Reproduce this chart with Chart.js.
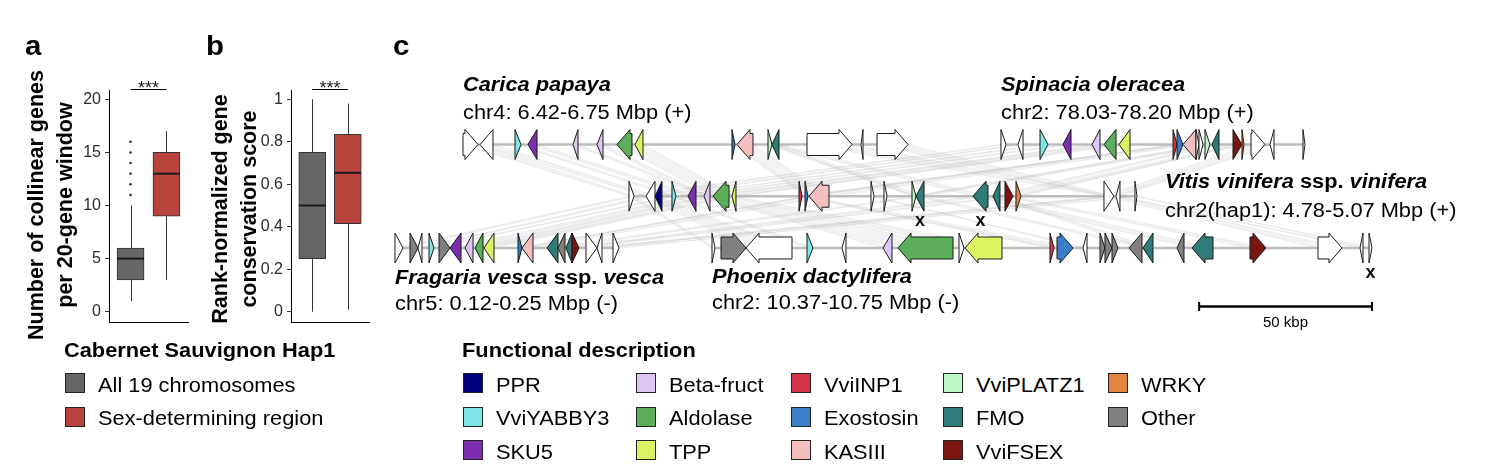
<!DOCTYPE html>
<html><head><meta charset="utf-8">
<script src="https://cdn.jsdelivr.net/npm/chart.js@4.4.1/dist/chart.umd.min.js"></script>
<style>
html,body{margin:0;padding:0;background:#fff;}
#wrap{position:relative;width:1486px;height:468px;overflow:hidden;font-family:'Liberation Sans',Arial,sans-serif;color:#000;}
canvas{position:absolute;}
.t{position:absolute;white-space:nowrap;line-height:1;transform-origin:0 0;}
.sw{position:absolute;width:20px;height:20px;box-sizing:border-box;border:1px solid #222;}
.rot{position:absolute;white-space:nowrap;font-weight:bold;text-align:center;}
</style></head><body><div id="wrap">
<canvas id="ca" width="200" height="340" style="left:0;top:0"></canvas>
<canvas id="cb" width="190" height="340" style="left:190px;top:0"></canvas>
<canvas id="cc" width="1106" height="280" style="left:380px;top:60px"></canvas>
</div>
<script>
// ================= DATA =================
// Panels a / b : box plots
const boxGroups = ['All 19 chromosomes', 'Sex-determining region'];
const boxX = [1, 2];
const aWhiskerLow = [1, 3];
const aQ1 = [3, 9];
const aMedian = [5, 13];
const aQ3 = [6, 15];
const aWhiskerHigh = [10, 17];
const aOutliers = [11, 12, 13, 14, 15, 16];
const aTicks = [0, 5, 10, 15, 20];
const bWhiskerLow = [0, 0.01];
const bQ1 = [0.25, 0.414];
const bMedian = [0.5, 0.654];
const bQ3 = [0.75, 0.835];
const bWhiskerHigh = [1, 0.98];
const bOutliers = [];
const bTicks = [0, 0.2, 0.4, 0.6, 0.8, 1];
const sigLabel = '***';

// Panel c : gene neighbourhoods, positions in kbp on the shared drawing axis
// [start, end, strand, category]
const genesCarica = [
  [24.01, 28.35, 1, 'none'], [28.93, 32.69, -1, 'none'], [39.06, 40.80, 1, 'VviYABBY3'],
  [42.82, 45.43, -1, 'SKU5'], [55.84, 57.29, -1, 'Beta-fruct'], [62.78, 64.52, -1, 'Beta-fruct'],
  [68.57, 72.91, -1, 'Aldolase'], [73.78, 76.09, -1, 'TPP'], [101.84, 102.71, 1, 'Exostosin'],
  [103.29, 107.92, -1, 'KASIII'], [112.26, 113.42, 1, 'VviPLATZ1'], [113.42, 115.44, -1, 'FMO'],
  [123.54, 136.56, 1, 'none'], [139.17, 139.75, -1, 'none'], [143.80, 152.77, 1, 'none']
];
const genesSpinacia = [
  [179.67, 181.12, 1, 'none'], [184.59, 186.04, -1, 'none'], [190.96, 193.27, 1, 'VviYABBY3'],
  [197.61, 199.93, -1, 'SKU5'], [206.00, 208.32, -1, 'Beta-fruct'], [209.47, 212.95, -1, 'Aldolase'],
  [213.82, 217.00, -1, 'TPP'], [229.44, 230.60, 1, 'VviINP1'], [230.60, 232.33, 1, 'Exostosin'],
  [232.33, 236.09, -1, 'KASIII'], [236.09, 236.96, 1, 'none'], [236.96, 238.12, 1, 'none'],
  [238.70, 240.14, 1, 'VviPLATZ1'], [240.72, 242.75, -1, 'FMO'], [246.80, 249.40, 1, 'VviFSEX'],
  [249.40, 249.98, 1, 'WRKY'], [252.01, 256.06, 1, 'none'], [257.50, 258.66, -1, 'none'],
  [267.05, 267.63, 1, 'none']
];
const genesVitis = [
  [72.04, 73.49, 1, 'none'], [76.96, 79.57, -1, 'none'], [79.57, 81.59, -1, 'PPR'],
  [84.48, 85.64, 1, 'VviYABBY3'], [89.11, 91.43, -1, 'SKU5'], [93.74, 95.48, -1, 'Beta-fruct'],
  [96.35, 100.98, -1, 'Aldolase'], [101.84, 103.00, -1, 'TPP'], [121.23, 122.10, 1, 'VviINP1'],
  [122.97, 123.83, 1, 'Exostosin'], [124.12, 129.91, -1, 'KASIII'], [142.06, 142.93, 1, 'none'],
  [145.82, 146.69, 1, 'none'], [153.92, 155.08, 1, 'VviPLATZ1'], [155.08, 157.40, -1, 'FMO'],
  [171.57, 175.91, -1, 'FMO'], [177.36, 179.38, -1, 'FMO'], [180.83, 183.15, 1, 'VviFSEX'],
  [184.01, 185.46, 1, 'WRKY'], [209.47, 212.37, 1, 'none'], [212.95, 214.10, -1, 'none'],
  [218.44, 219.02, 1, 'none']
];
const genesFragaria = [
  [4.34, 6.65, 1, 'none'], [8.68, 10.99, 1, 'Other'], [10.99, 12.15, -1, 'none'],
  [14.18, 15.62, 1, 'VviYABBY3'], [17.07, 20.25, 1, 'Other'], [20.25, 23.44, -1, 'SKU5'],
  [24.59, 26.91, -1, 'Beta-fruct'], [27.49, 29.80, -1, 'Aldolase'], [30.09, 32.98, -1, 'TPP'],
  [39.93, 41.08, 1, 'Exostosin'], [41.08, 44.27, -1, 'KASIII'], [48.32, 51.50, -1, 'FMO'],
  [51.50, 53.53, -1, 'Other'], [53.82, 55.55, -1, 'FMO'], [55.55, 57.58, 1, 'VviFSEX'],
  [59.60, 62.78, 1, 'none'], [62.78, 64.23, -1, 'none'], [67.41, 69.15, 1, 'none']
];
const genesPhoenix = [
  [96.06, 96.93, 1, 'none'], [98.66, 105.90, 1, 'Other'], [105.90, 119.20, -1, 'none'],
  [123.54, 125.28, 1, 'VviYABBY3'], [133.67, 134.83, -1, 'none'], [145.53, 148.14, -1, 'Beta-fruct'],
  [149.87, 165.79, -1, 'Aldolase'], [167.52, 168.97, 1, 'none'], [169.26, 179.96, -1, 'TPP'],
  [193.85, 195.01, 1, 'VviINP1'], [195.88, 200.51, 1, 'Exostosin'], [203.40, 204.56, -1, 'none'],
  [208.32, 209.76, 1, 'Other'], [209.76, 211.79, 1, 'Other'], [211.79, 213.53, 1, 'Other'],
  [216.71, 220.47, -1, 'Other'], [220.76, 223.65, -1, 'FMO'], [230.60, 232.62, -1, 'Other'],
  [234.94, 241.01, -1, 'FMO'], [251.72, 256.35, 1, 'VviFSEX'], [271.39, 278.33, 1, 'none'],
  [283.55, 284.41, -1, 'none'], [286.15, 287.01, 1, 'none']
];
const trackGenes = [genesCarica, genesSpinacia, genesVitis, genesFragaria, genesPhoenix];
const trackRows = [2, 2, 1, 0, 0];
const trackSpans = [[24.0, 152.8], [179.4, 267.6], [71.75, 219.0], [4.3, 69.2], [95.77, 287.0]];
const speciesNames = ['<i>Carica papaya</i>', '<i>Spinacia oleracea</i>', '<i>Vitis vinifera</i> ssp. <i>vinifera</i>',
  '<i>Fragaria vesca</i> ssp. <i>vesca</i>', '<i>Phoenix dactylifera</i>'];
const speciesRegions = ['chr4: 6.42-6.75 Mbp (+)', 'chr2: 78.03-78.20 Mbp (+)', 'chr2(hap1): 4.78-5.07 Mbp (+)',
  'chr5: 0.12-0.25 Mbp (-)', 'chr2: 10.37-10.75 Mbp (-)'];
// genes marked with "x": [track, gene]
const markedGenes = [[2, 14], [2, 15], [4, 22]];
// synteny links: [trackA, geneA, trackB, geneB]
const syntenyLinks = [
  [0,0,2,0],[0,1,2,1],[0,2,2,3],[0,3,2,4],[0,4,2,5],[0,5,2,5],[0,6,2,6],[0,7,2,7],[0,8,2,9],
  [0,9,2,10],[0,10,2,13],[0,11,2,14],[0,11,2,15],[0,12,2,19],[0,14,2,19],
  [1,0,2,0],[1,1,2,1],[1,2,2,3],[1,3,2,4],[1,4,2,5],[1,5,2,6],[1,6,2,7],[1,7,2,8],[1,8,2,9],
  [1,9,2,10],[1,12,2,13],[1,13,2,14],[1,13,2,16],[1,14,2,17],[1,15,2,18],[1,16,2,19],[1,17,2,20],
  [2,0,3,0],[2,1,3,2],[2,3,3,3],[2,4,3,5],[2,5,3,6],[2,6,3,7],[2,7,3,8],[2,9,3,9],[2,10,3,10],
  [2,14,3,11],[2,15,3,13],[2,17,3,14],[2,19,3,15],[2,20,3,16],[2,21,3,17],
  [2,0,4,0],[2,1,4,2],[2,3,4,3],[2,5,4,5],[2,6,4,6],[2,7,4,8],[2,8,4,9],[2,9,4,10],[2,11,4,11],
  [2,14,4,16],[2,15,4,18],[2,16,4,16],[2,17,4,19],[2,19,4,20],[2,20,4,21],[2,21,4,22]
];
const scaleBarKb = [237, 287];
const scaleBarLabel = '50 kbp';
const funcCategories = ['PPR','VviYABBY3','SKU5','Beta-fruct','Aldolase','TPP','VviINP1','Exostosin',
  'KASIII','VviPLATZ1','FMO','VviFSEX','WRKY','Other'];
const boxLegendTitle = 'Cabernet Sauvignon Hap1';
const funcLegendTitle = 'Functional description';

// ================= STYLES =================
const FONT = "'Liberation Sans', Arial, sans-serif";
const boxColors = ['#666666', '#B8433D'];
const catColors = {
  'PPR':'#00007F','VviYABBY3':'#7EE6E6','SKU5':'#7B2FAF','Beta-fruct':'#DDC6F5','Aldolase':'#5CAE5A',
  'TPP':'#DDF263','VviINP1':'#D4344C','Exostosin':'#3A7DC9','KASIII':'#F3BFBF','VviPLATZ1':'#C0F7C8',
  'FMO':'#2E7B77','VviFSEX':'#7B1510','WRKY':'#E6853F','Other':'#808080','none':'#FFFFFF'
};
Chart.defaults.font.family = FONT;
Chart.defaults.animation = false;

// ================= PANELS a, b =================
function makeBox(id, o) {
  const extras = {
    id: 'boxExtras',
    beforeDatasetsDraw(chart) {
      const {ctx, scales: {x, y}} = chart;
      ctx.save(); ctx.strokeStyle = '#333'; ctx.lineWidth = 1;
      o.x.forEach((xv, i) => {
        const px = Math.round(x.getPixelForValue(xv)) + 0.5;
        ctx.beginPath();
        ctx.moveTo(px, y.getPixelForValue(o.lo[i])); ctx.lineTo(px, y.getPixelForValue(o.q1[i]));
        ctx.moveTo(px, y.getPixelForValue(o.q3[i])); ctx.lineTo(px, y.getPixelForValue(o.hi[i]));
        ctx.stroke();
      });
      ctx.restore();
    },
    afterDatasetsDraw(chart) {
      const {ctx, scales: {x, y}, chartArea} = chart;
      const meta = chart.getDatasetMeta(0);
      ctx.save(); ctx.strokeStyle = '#1a1a1a'; ctx.lineWidth = 2;
      meta.data.forEach((bar, i) => {
        const py = y.getPixelForValue(o.med[i]);
        ctx.beginPath(); ctx.moveTo(bar.x - bar.width / 2, py); ctx.lineTo(bar.x + bar.width / 2, py); ctx.stroke();
      });
      const x1 = x.getPixelForValue(o.x[0]), x2 = x.getPixelForValue(o.x[1]);
      const sy = chartArea.top - 0.5;
      ctx.lineWidth = 1; ctx.strokeStyle = '#000';
      ctx.beginPath(); ctx.moveTo(x1, sy); ctx.lineTo(x2, sy); ctx.stroke();
      ctx.fillStyle = '#222'; ctx.font = '18px ' + FONT; ctx.textAlign = 'center'; ctx.textBaseline = 'alphabetic';
      ctx.fillText(sigLabel, (x1 + x2) / 2, sy + 4);
      ctx.restore();
    }
  };
  return new Chart(document.getElementById(id), {
    type: 'bar',
    data: { datasets: [
      { type: 'bar', data: o.x.map((xv, i) => ({x: xv, y: [o.q1[i], o.q3[i]]})), backgroundColor: boxColors,
        borderColor: '#333', borderWidth: 1, borderSkipped: false, barThickness: 27 },
      { type: 'scatter', data: o.out.map(v => ({x: o.x[0], y: v})), pointRadius: 1.3,
        pointBackgroundColor: '#333', pointBorderWidth: 0 }
    ]},
    options: {
      responsive: false, devicePixelRatio: 1, animation: false,
      layout: {padding: {left: 0, right: o.padR, top: 90, bottom: 18}},
      plugins: {legend: {display: false}, tooltip: {enabled: false}},
      scales: {
        x: {type: 'linear', min: 0.4, max: 2.6, offset: false, ticks: {display: false}, grid: {display: false, offset: false},
            border: {display: true, color: '#000', width: 1}, afterFit: s => { s.height = 0; }},
        y: {type: 'linear', min: o.min, max: o.max, offset: false,
            afterBuildTicks: s => { s.ticks = o.ticks.map(v => ({value: v})); },
            afterFit: s => { s.width = o.axisW; },
            ticks: {color: '#2b2b2b', font: {size: 16}, padding: 4, callback: v => String(v)},
            grid: {drawOnChartArea: false, drawTicks: true, tickLength: 4, color: '#333'},
            border: {display: true, color: '#000', width: 1}}
      }
    },
    plugins: [extras]
  });
}
makeBox('ca', {x: boxX, lo: aWhiskerLow, q1: aQ1, med: aMedian, q3: aQ3, hi: aWhiskerHigh, out: aOutliers,
  ticks: aTicks, min: -0.97, max: 20.88, padR: 12, axisW: 109});
makeBox('cb', {x: boxX, lo: bWhiskerLow, q1: bQ1, med: bMedian, q3: bQ3, hi: bWhiskerHigh, out: bOutliers,
  ticks: bTicks, min: -0.0485, max: 1.0438, padR: 11, axisW: 101});

// ================= PANEL c =================
const BODY = 11, HEAD = 15, HEAD_LEN = 13;
function arrowPath(ctx, x1, x2, y, strand) {
  const len = x2 - x1, hl = Math.min(HEAD_LEN, len);
  ctx.beginPath();
  if (strand > 0) {
    const hb = x2 - hl;
    if (len > hl + 0.5) {
      ctx.moveTo(x1, y - BODY); ctx.lineTo(hb, y - BODY); ctx.lineTo(hb, y - HEAD); ctx.lineTo(x2, y);
      ctx.lineTo(hb, y + HEAD); ctx.lineTo(hb, y + BODY); ctx.lineTo(x1, y + BODY);
    } else { ctx.moveTo(x1, y - HEAD); ctx.lineTo(x2, y); ctx.lineTo(x1, y + HEAD); }
  } else {
    const hb = x1 + hl;
    if (len > hl + 0.5) {
      ctx.moveTo(x2, y - BODY); ctx.lineTo(hb, y - BODY); ctx.lineTo(hb, y - HEAD); ctx.lineTo(x1, y);
      ctx.lineTo(hb, y + HEAD); ctx.lineTo(hb, y + BODY); ctx.lineTo(x2, y + BODY);
    } else { ctx.moveTo(x2, y - HEAD); ctx.lineTo(x1, y); ctx.lineTo(x2, y + HEAD); }
  }
  ctx.closePath();
}
const genePlugin = {
  id: 'genes',
  beforeDatasetsDraw(chart) {
    const {ctx, scales: {x, y}} = chart;
    ctx.save();
    ctx.fillStyle = 'rgba(170,170,170,0.14)'; ctx.strokeStyle = 'rgba(170,170,170,0.16)'; ctx.lineWidth = 1;
    syntenyLinks.forEach(([ta, ga, tb, gb]) => {
      const A = trackGenes[ta][ga], B = trackGenes[tb][gb];
      const ya = y.getPixelForValue(trackRows[ta]), yb = y.getPixelForValue(trackRows[tb]);
      ctx.beginPath();
      ctx.moveTo(x.getPixelForValue(A[0]), ya); ctx.lineTo(x.getPixelForValue(A[1]), ya);
      ctx.lineTo(x.getPixelForValue(B[1]), yb); ctx.lineTo(x.getPixelForValue(B[0]), yb);
      ctx.closePath(); ctx.fill(); ctx.stroke();
    });
    ctx.restore();
  },
  afterDatasetsDraw(chart) {
    const {ctx, scales: {x, y}} = chart;
    ctx.save();
    ctx.lineWidth = 1; ctx.strokeStyle = '#1a1a1a'; ctx.lineJoin = 'miter';
    trackGenes.forEach((genes, t) => {
      const py = y.getPixelForValue(trackRows[t]);
      genes.forEach(g => {
        arrowPath(ctx, x.getPixelForValue(g[0]), x.getPixelForValue(g[1]), py, g[2]);
        ctx.fillStyle = catColors[g[3]]; ctx.fill(); ctx.stroke();
      });
    });
    ctx.fillStyle = '#111'; ctx.font = 'bold 18px ' + FONT; ctx.textAlign = 'center'; ctx.textBaseline = 'alphabetic';
    markedGenes.forEach(([t, gi]) => {
      const g = trackGenes[t][gi];
      ctx.fillText('x', x.getPixelForValue((g[0] + g[1]) / 2), y.getPixelForValue(trackRows[t]) + 30);
    });
    // scale bar caps + label
    const sb = chart.getDatasetMeta(trackSpans.length).data;
    ctx.strokeStyle = '#000'; ctx.lineWidth = 2;
    sb.forEach(p => { ctx.beginPath(); ctx.moveTo(p.x, p.y - 4.5); ctx.lineTo(p.x, p.y + 4.5); ctx.stroke(); });
    ctx.font = '15px ' + FONT; ctx.fillStyle = '#000';
    ctx.fillText(scaleBarLabel, (sb[0].x + sb[1].x) / 2, sb[0].y + 21);
    ctx.restore();
  }
};
const backboneSets = trackSpans.map((s, i) => ({
  data: [{x: s[0], y: trackRows[i]}, {x: s[1], y: trackRows[i]}], showLine: true,
  borderColor: '#bdbdbd', borderWidth: 2.5, pointRadius: 0
}));
backboneSets.push({
  data: [{x: scaleBarKb[0], y: -1.13}, {x: scaleBarKb[1], y: -1.13}], showLine: true,
  borderColor: '#000', borderWidth: 2.5, pointRadius: 0
});
new Chart(document.getElementById('cc'), {
  type: 'scatter',
  data: {datasets: backboneSets},
  options: {
    responsive: false, devicePixelRatio: 1, animation: false,
    layout: {padding: 0},
    plugins: {legend: {display: false}, tooltip: {enabled: false}},
    scales: {x: {type: 'linear', min: 0, max: 320, display: false},
             y: {type: 'linear', min: -1.778, max: 3.633, display: false}}
  },
  plugins: [genePlugin]
});

// ================= TEXT =================
const wrap = document.getElementById('wrap');
function addText(html, x, baseline, size, weight, style, sx) {
  const d = document.createElement('div');
  d.className = 't';
  d.innerHTML = html;
  d.style.left = x + 'px';
  d.style.top = (baseline - 0.8465 * size) + 'px';
  d.style.fontSize = size + 'px';
  d.style.fontWeight = weight || 'normal';
  d.style.fontStyle = style || 'normal';
  d.style.transform = 'scaleX(' + (sx || 1.09) + ')';
  wrap.appendChild(d);
}
function addRot(html, cx, cy) {
  const d = document.createElement('div');
  d.className = 'rot';
  d.innerHTML = html;
  const L = 320, H = 58;
  d.style.left = (cx - L / 2) + 'px'; d.style.top = (cy - H / 2) + 'px';
  d.style.width = L + 'px'; d.style.height = H + 'px';
  d.style.fontSize = '21.5px'; d.style.lineHeight = '29px';
  d.style.transform = 'rotate(-90deg)';
  wrap.appendChild(d);
}
function addSwatch(x, y, color) {
  const d = document.createElement('div');
  d.className = 'sw'; d.style.left = x + 'px'; d.style.top = y + 'px'; d.style.background = color;
  wrap.appendChild(d);
}
addText('a', 25, 56, 27, 'bold');
addText('b', 206, 56, 27, 'bold');
addText('c', 393, 56, 27, 'bold');
addRot('Number of collinear genes<br>per 20-gene window', 51, 205);
addRot('Rank-normalized gene<br>conservation score', 235, 209);

const labelPos = [[463, 91, 119], [1001, 91, 119], [1165, 188, 217], [395, 284, 310], [712, 283, 309]];
speciesNames.forEach((n, i) => {
  addText(n, labelPos[i][0], labelPos[i][1], 20, 'bold');
  addText(speciesRegions[i], labelPos[i][0], labelPos[i][2], 20);
});

addText(boxLegendTitle, 64, 357, 20, 'bold');
const rowTops = [373, 406.5, 440];
boxGroups.forEach((g, i) => {
  addSwatch(65, rowTops[i], boxColors[i]);
  addText(g, 98, rowTops[i] + 18.5, 20);
});
addText(funcLegendTitle, 462, 357, 20, 'bold');
const colLefts = [463, 636, 791, 943, 1108];
funcCategories.forEach((c, i) => {
  const col = Math.floor(i / 3), row = i % 3;
  addSwatch(colLefts[col], rowTops[row], catColors[c]);
  addText(c, colLefts[col] + 33, rowTops[row] + 18.5, 20);
});
</script>
</body></html>
